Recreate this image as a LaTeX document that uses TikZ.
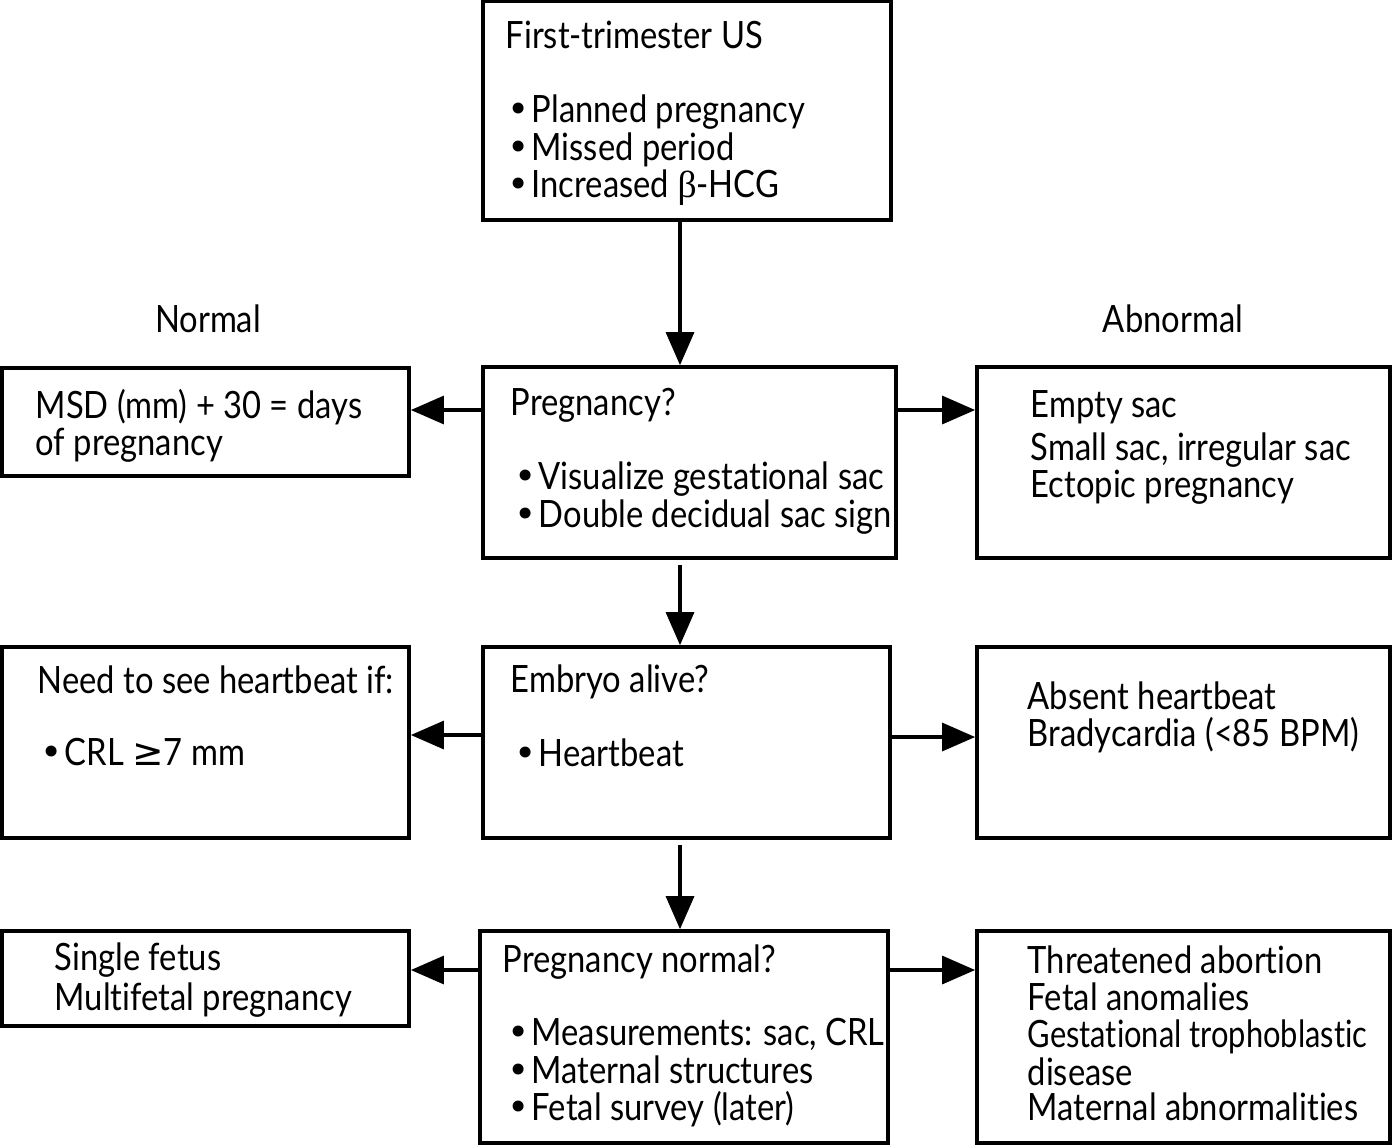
\documentclass[tikz,border=0pt]{standalone}
\usepackage{fontspec}
\setmainfont[FakeStretch=0.87,Ligatures=NoCommon]{Lato}
\newfontfamily\narrowf[FakeStretch=0.82,Ligatures=NoCommon]{Lato}
\newfontfamily\grk{Liberation Serif}
\newfontfamily\sym{DejaVu Sans}
\newcommand{\bul}{\makebox[0.24cm][l]{\sym •}}
\usetikzlibrary{arrows.meta}
\begin{document}
\begin{tikzpicture}[x=0.01cm,y=-0.01cm,
  box/.style={draw, line width=1pt, inner sep=0pt},
  txt/.style={anchor=base west, inner sep=0pt, font=\fontsize{10.7}{13}\selectfont},
  ctxt/.style={anchor=base, inner sep=0pt, font=\fontsize{10.7}{13}\selectfont},
  arr/.style={line width=0.9pt, -{Triangle[length=0.33cm,width=0.28cm]}}]
\useasboundingbox (0,0) rectangle (1392,1145);
% boxes
\node[box, minimum width=4.08cm, minimum height=2.19cm] (top) at (687,110.5) {};
\node[box, minimum width=4.13cm, minimum height=1.91cm] (preg) at (689.5,462.5) {};
\node[box, minimum width=4.07cm, minimum height=1.08cm] (l1) at (205.5,422) {};
\node[box, minimum width=4.13cm, minimum height=1.91cm] (r1) at (1183.5,462.5) {};
\node[box, minimum width=4.07cm, minimum height=1.91cm] (emb) at (686.5,742.5) {};
\node[box, minimum width=4.07cm, minimum height=1.91cm] (l2) at (205.5,742.5) {};
\node[box, minimum width=4.13cm, minimum height=1.91cm] (r2) at (1183.5,742.5) {};
\node[box, minimum width=4.08cm, minimum height=2.12cm] (bot) at (684,1037) {};
\node[box, minimum width=4.07cm, minimum height=0.95cm] (l3) at (205.5,978.5) {};
\node[box, minimum width=4.13cm, minimum height=2.12cm] (r3) at (1183.5,1037) {};
% labels
\node[ctxt] (normal) at (208,332) {Normal};
\node[ctxt] (abnormal) at (1173,332) {Abnormal};
% top box text
\node[txt] (t0) at (505,48) {First-trimester US};
\node[txt] (t1) at (507,122) {\bul Planned pregnancy};
\node[txt] (t2) at (507,160) {\bul Missed period};
\node[txt] (t3) at (507,197) {\bul Increased {\grk β}-HCG};
% pregnancy
\node[txt] (p0) at (510,415) {Pregnancy?};
\node[txt] (p1) at (514,489) {\bul Visualize gestational sac};
\node[txt] (p2) at (514,527) {\bul Double decidual sac sign};
% left1
\node[txt] (a0) at (35,418) {MSD (mm) + 30 = days};
\node[txt] (a1) at (35,455) {of pregnancy};
% right1
\node[txt] (b0) at (1030,417) {Empty sac};
\node[txt] (b1) at (1030,460) {Small sac, irregular sac};
\node[txt] (b2) at (1030,497) {Ectopic pregnancy};
% embryo
\node[txt] (e0) at (510,692) {Embryo alive?};
\node[txt] (e1) at (514,766) {\bul Heartbeat};
% left2
\node[txt] (c0) at (37,693) {Need to see heartbeat if:};
\node[txt] (c1) at (40,765) {\bul CRL {\sym ≥}7 mm};
% right2
\node[txt] (d0) at (1027,709) {Absent heartbeat};
\node[txt] (d1) at (1027,746) {Bradycardia (<85 BPM)};
% bottom
\node[txt] (n0) at (502,972) {Pregnancy normal?};
\node[txt] (n1) at (507,1045) {\bul Measurements: sac, CRL};
\node[txt] (n2) at (507,1083) {\bul Maternal structures};
\node[txt] (n3) at (507,1120) {\bul Fetal survey (later)};
% left3
\node[txt] (f0) at (54,970) {Single fetus};
\node[txt] (f1) at (54,1010) {Multifetal pregnancy};
% right3
\node[txt] (g0) at (1027,973) {Threatened abortion};
\node[txt] (g1) at (1027,1010) {Fetal anomalies};
\node[txt] (g2) at (1027,1047) {\narrowf Gestational trophoblastic};
\node[txt] (g3) at (1027,1085) {disease};
\node[txt] (g4) at (1027,1120) {Maternal abnormalities};
% arrows
\draw[arr] (top.south -| 680,0) -- (preg.north -| 680,0);
\draw[arr, shorten <=0.05cm] (preg.south -| 680,0) -- (emb.north -| 680,0);
\draw[arr, shorten <=0.05cm] (emb.south -| 680,0) -- (bot.north -| 680,0);
\draw[arr] (preg.west |- 0,410) -- (l1.east |- 0,410);
\draw[arr] (preg.east |- 0,410) -- (r1.west |- 0,410);
\draw[arr] (emb.west |- 0,735) -- (l2.east |- 0,735);
\draw[arr] (emb.east |- 0,737) -- (r2.west |- 0,737);
\draw[arr] (bot.west |- 0,970) -- (l3.east |- 0,970);
\draw[arr] (bot.east |- 0,970) -- (r3.west |- 0,970);
\end{tikzpicture}
\end{document}
